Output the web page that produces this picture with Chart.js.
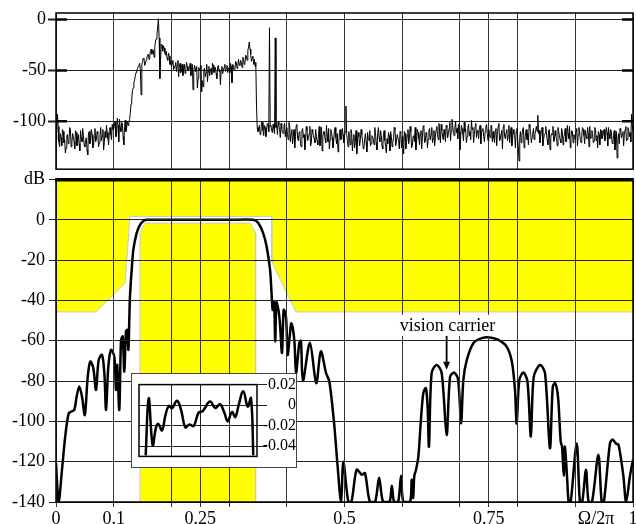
<!DOCTYPE html>
<html><head><meta charset="utf-8">
<script src="https://cdn.jsdelivr.net/npm/chart.js@4/dist/chart.umd.min.js"></script>
<style>
html,body{margin:0;padding:0;background:#fff;}
#wrap{position:relative;width:636px;height:524px;overflow:hidden;background:#fff;}
#wrap canvas{position:absolute;left:0;top:0;}
#inset{position:absolute;left:131px;top:373px;width:166px;height:95px;border:1px solid #444;box-sizing:border-box;background:#fff;}
</style></head><body>
<div id="wrap">
<canvas id="bottom" width="636" height="524"></canvas>
<canvas id="top" width="636" height="182"></canvas>
<div id="inset"><canvas id="ins" width="164" height="93"></canvas></div>
</div>
<script>
// ---------- data ----------
const xTickValues = [0,0.1,0.2,0.25,0.3,0.4,0.5,0.6,0.7,0.75,0.8,0.9,0.936,1];
const xTickLabels = ['0','0.1','','0.25','','','0.5','','','0.75','','','Ω/2π','1'];
const topYTicks = [0,-50,-100];
const bottomYTicks = [20,0,-20,-40,-60,-80,-100,-120,-140];
const bottomYLabels = ['dB','0','-20','-40','-60','-80','-100','-120','-140'];

// measured spectrum (top panel), read at every 0.0025 of Ω/2π (specDB, from 0 to 1)
// and at the midpoints between them (specDBMid, from 0.00125 to 0.99875)
const SPEC_STEP = 0.0025;
const specDB = [
-118,-93,-120,-112,-124,-110,-118,-126,-113,-119,-108,-121,-115,-127,-111,-117,-122,-109,-120,-114,
-125,-116,-133,-110,-119,-113,-124,-107,-118,-112,-121,-106,-115,-128,-110,-104,-117,-109,-113,-103,
-108,-100,-112,-104,-98,-110,-102,-123,-99,-106,-104,-98,-83,-70,-62,-55,-50,-46,-43,-74,
-41,-39,-43,-37,-34,-36,-29,-33,-37,-21,-15,1,-58,-24,-31,-28,-35,-38,-33,-44,
-46,-40,-48,-42,-45,-56,-43,-47,-55,-44,-49,-46,-50,-43,-48,-69,-45,-51,-67,-47,
-50,-71,-66,-48,-52,-61,-46,-50,-54,-45,-49,-53,-47,-51,-64,-46,-50,-44,-48,-52,
-47,-43,-62,-45,-49,-42,-46,-44,-40,-47,-38,-43,-36,-30,-22,-34,-38,-44,-46,-85,
-110,-104,-112,-101,-114,-106,-109,-103,-8,-104,-111,-107,-18,-103,-100,-108,-102,-111,-105,-115,
-106,-118,-104,-112,-122,-108,-115,-103,-119,-110,-125,-107,-113,-120,-109,-116,-105,-121,-111,-117,
-108,-119,-112,-124,-106,-115,-110,-121,-113,-107,-118,-111,-126,-109,-116,-112,-122,-108,-117,-113,
-114,-85,-119,-110,-123,-112,-118,-126,-109,-121,-115,-118,-113,-127,-117,-120,-111,-119,-124,-114,
-118,-106,-121,-112,-116,-109,-124,-113,-119,-131,-122,-114,-110,-125,-116,-108,-120,-113,-127,-111,
-115,-132,-112,-121,-108,-117,-110,-124,-114,-106,-119,-111,-123,-109,-116,-104,-120,-112,-118,-107,
-113,-121,-109,-116,-105,-118,-111,-103,-115,-108,-120,-106,-112,-101,-109,-104,-114,-100,-107,-103,
-128,-104,-112,-101,-108,-115,-103,-110,-99,-106,-113,-102,-109,-117,-104,-111,-107,-120,-105,-112,
-108,-116,-104,-110,-121,-107,-113,-102,-118,-109,-106,-115,-111,-119,-104,-112,-124,-108,-114,-110,
-117,-139,-110,-114,-106,-119,-108,-112,-103,-110,-116,-107,-113,-105,-94,-109,-115,-106,-118,-112,
-111,-123,-108,-116,-113,-120,-109,-117,-106,-114,-121,-110,-115,-107,-119,-112,-105,-116,-110,-113,
-118,-107,-113,-110,-121,-106,-114,-109,-117,-111,-105,-116,-112,-119,-108,-114,-110,-123,-109,-115,
-108,-114,-111,-106,-117,-110,-122,-109,-115,-136,-112,-107,-116,-110,-113,-105,-118,-108,-111,-93,
-110];
const specDBMid = [
-112,-105,-125,-116,-108,-121,-131,-114,-122,-106,-125,-112,-120,-109,-124,-113,-129,-116,-107,-123,
-119,-128,-112,-122,-108,-126,-115,-120,-110,-125,-114,-119,-108,-121,-116,-111,-123,-106,-118,-108,
-104,-115,-97,-120,-106,-101,-115,-105,-110,-100,-101,-92,-78,-67,-59,-52,-48,-45,-50,-44,
-38,-45,-40,-35,-39,-31,-34,-30,-27,-19,-7,-18,-40,-25,-26,-33,-31,-40,-36,-41,
-43,-49,-45,-51,-40,-47,-52,-44,-48,-53,-42,-50,-47,-55,-44,-52,-48,-46,-58,-50,
-45,-60,-49,-56,-44,-51,-55,-48,-43,-52,-47,-58,-45,-49,-50,-53,-47,-51,-45,-49,
-52,-46,-44,-50,-41,-48,-39,-45,-42,-37,-44,-35,-40,-27,-29,-41,-36,-39,-42,-106,
-107,-113,-100,-109,-104,-115,-102,-110,-105,-109,-103,-112,-106,-113,-104,-116,-107,-112,-102,-108,
-113,-101,-120,-108,-115,-126,-104,-117,-111,-122,-109,-116,-128,-105,-119,-112,-124,-108,-114,-121,
-115,-123,-105,-118,-129,-110,-117,-104,-120,-127,-108,-116,-119,-106,-122,-130,-111,-118,-107,-121,
-110,-112,-125,-116,-108,-129,-113,-120,-132,-111,-124,-108,-119,-126,-112,-130,-117,-109,-122,-115,
-123,-112,-128,-106,-120,-114,-127,-109,-125,-117,-111,-129,-115,-121,-106,-124,-113,-119,-110,-126,
-120,-110,-127,-114,-122,-105,-126,-115,-120,-128,-108,-117,-113,-127,-105,-121,-111,-126,-109,-118,
-106,-117,-124,-108,-113,-102,-121,-109,-118,-113,-104,-116,-107,-119,-98,-112,-106,-111,-117,-110,
-116,-107,-119,-110,-121,-106,-114,-118,-108,-121,-105,-116,-111,-106,-122,-109,-115,-110,-103,-119,
-113,-104,-120,-116,-109,-124,-105,-119,-112,-127,-103,-117,-108,-114,-121,-106,-118,-112,-126,-107,
-125,-115,-121,-108,-126,-111,-118,-123,-106,-121,-112,-118,-109,-110,-112,-121,-108,-124,-113,-105,
-118,-109,-128,-112,-105,-119,-114,-124,-110,-118,-107,-123,-113,-120,-104,-117,-126,-109,-121,-115,
-110,-124,-106,-119,-113,-108,-122,-115,-106,-125,-117,-109,-121,-106,-119,-126,-113,-108,-117,-112,
-119,-106,-124,-113,-108,-121,-114,-128,-110,-118,-122,-109,-113,-124,-108,-119,-106,-115,-120,-104];

// tolerance mask (yellow): stopband upper limit and passband lower limit
const maskStopF  = [0, 0.069, 0.120, 0.128, 0.374, 0.374, 0.395, 0.416, 1];
const maskStopDB = [-45.7, -45.7, -31.4, 1.6, 1.6, -20.7, -33.5, -45.7, -45.7];
const maskPassF  = [0.1456, 0.1456, 0.154, 0.336, 0.346, 0.346];
const maskPassDB = [-140, -6.5, -1.6, -1.6, -6.5, -140];

// filter magnitude response (bottom panel)
const respF = [0,0.0046,0.0104,0.016,0.022,0.0277,0.0318,0.0358,0.0404,0.045,0.050,0.055,0.0595,0.0647,0.0693,0.074,0.0797,0.0838,0.0867,0.0907,0.0953,0.101,0.104,0.106,0.1097,0.1127,0.1156,0.1184,0.1213,0.1235,0.1255,0.127,0.1282,0.1312,0.134,0.1398,0.1456,0.1525,0.157,0.2,0.25,0.3,0.342,0.3506,0.359,0.365,0.371,0.3735,0.3755,0.378,0.380,0.382,0.3855,0.388,0.3917,0.3946,0.3986,0.4015,0.405,0.408,0.413,0.416,0.4217,0.4245,0.428,0.44,0.451,0.459,0.468,0.4737,0.482,0.488,0.494,0.498,0.5066,0.512,0.521,0.53,0.5355,0.544,0.553,0.560,0.567,0.578,0.582,0.586,0.593,0.598,0.602,0.6135,0.6165,0.619,0.621,0.624,0.628,0.632,0.6366,0.641,0.644,0.6464,0.651,0.6597,0.6684,0.677,0.683,0.6903,0.697,0.702,0.706,0.712,0.7233,0.738,0.752,0.7666,0.781,0.79,0.7955,0.7984,0.803,0.81,0.817,0.823,0.828,0.839,0.8475,0.856,0.861,0.865,0.870,0.8747,0.877,0.880,0.882,0.886,0.8885,0.892,0.9024,0.908,0.912,0.9185,0.923,0.929,0.940,0.9457,0.9495,0.960,0.9646,0.9705,0.975,0.9833,0.988,0.9948,1.0];
const respDB = [-120.8,-140,-124,-107.5,-96,-95,-94.3,-87.7,-82.7,-87.7,-96.8,-77.8,-70.3,-73.6,-84.4,-69.5,-67,-76,-94.3,-72.8,-64.5,-67.8,-84.4,-72,-94.3,-59.6,-57.9,-75.3,-55.4,-54.6,-64.5,-50,-38,-24.8,-14.9,-6.6,-2.5,-0.3,0,0,0,0,0,-1.6,-6.6,-13.2,-24.8,-36,-44.7,-41,-60.4,-41,-44.7,-51,-66,-44.7,-48,-67,-57.9,-51.3,-59.6,-76,-61,-60,-80,-61,-81,-65.3,-76,-80.2,-101,-122,-140,-120,-140,-140,-124,-126.5,-125.7,-140,-140,-128,-140,-140,-132,-140,-140,-127,-140,-140,-129,-138,-127,-124,-117.5,-101,-86,-83.5,-92.6,-112.5,-76,-72,-76,-106.7,-77.8,-75.8,-79.4,-101,-79.4,-69.5,-61.2,-58.7,-58.4,-59.6,-62.9,-70.3,-84.4,-101,-79.4,-75.8,-80,-107.5,-77.8,-72,-76,-113.3,-82.7,-81,-87.7,-110,-112.5,-127,-112.5,-129,-140,-140,-111,-140,-140,-124,-140,-140,-116.6,-140,-140,-111,-109,-111,-111.7,-127,-140,-127,-119];

// passband detail (inset), dB
const insetF   = [0.1554,0.1606,0.1675,0.1733,0.1773,0.1837,0.1895,0.1953,0.201,0.2097,0.2166,0.2241,0.231,0.2386,0.2473,0.2542,0.2669,0.2761,0.2842,0.2917,0.2976,0.305,0.3108,0.3166,0.3247,0.3322,0.338,0.342];
const insetDev = [-0.049,0.0067,-0.039,-0.0217,-0.0183,-0.0246,-0.0102,-0.0009,-0.0029,0.0043,-0.0043,-0.0217,-0.0188,-0.0203,-0.0072,-0.0058,0.0035,-0.0029,0.0009,-0.0072,-0.0159,-0.0067,-0.0116,0,0.0136,-0.0014,0.0067,-0.049];
const insetXGrid = [0.2,0.25,0.3];
const insetYTicks = [0.02,0,-0.02,-0.04];
const insetYLabels = ['0.02','0','-0.02','-0.04'];

// annotation
const annText = 'vision carrier';
const annTextF = 0.6785, annTextDB = -55.1;
const annArrowF = 0.677, annArrowTopDB = -57.6, annArrowTipDB = -74.4;

// ---------- drawing ----------
const FONT = "'Liberation Serif','Times New Roman',serif";
const GRID = '#333';
const pairs = (xs, ys) => xs.map((x,i)=>({x:x, y:ys[i]}));
const setTicks = list => s => { s.ticks = list.map(v=>({value:v})); };
const gridColorX = ctx => (ctx.tick && ctx.tick.value === 0.936) ? 'rgba(0,0,0,0)' : GRID;

const specPoints = [];
specDB.forEach((v,i)=>{
  specPoints.push({x:i*SPEC_STEP, y:v});
  if (i < specDBMid.length) specPoints.push({x:(i+0.5)*SPEC_STEP, y:specDBMid[i]});
});

const framePlugin = {
  id:'frame',
  afterDraw(chart){
    const a = chart.chartArea, c = chart.ctx;
    c.save(); c.strokeStyle = '#000'; c.lineWidth = 1.5;
    c.strokeRect(a.left, a.top, a.right-a.left, a.bottom-a.top);
    c.restore();
  }
};
const innerTicksPlugin = {
  id:'innerTicks',
  afterDraw(chart){
    const a = chart.chartArea, c = chart.ctx, y = chart.scales.y;
    c.save(); c.strokeStyle = '#000'; c.lineWidth = 2.5;
    topYTicks.forEach(v=>{
      const py = y.getPixelForValue(v);
      c.beginPath(); c.moveTo(a.left, py); c.lineTo(a.left+11, py);
      c.moveTo(a.right-11, py); c.lineTo(a.right, py); c.stroke();
    });
    c.restore();
  }
};
const bottomDecor = {
  id:'bottomDecor',
  afterDraw(chart){
    const a = chart.chartArea, c = chart.ctx, xs = chart.scales.x, ys = chart.scales.y;
    c.save();
    c.strokeStyle = '#000'; c.lineWidth = 3.5;
    c.beginPath(); c.moveTo(a.left-0.75, a.top+0.2); c.lineTo(a.right+0.75, a.top+0.2); c.stroke();
    c.font = '18px ' + FONT;
    const tx = xs.getPixelForValue(annTextF), ty = ys.getPixelForValue(annTextDB);
    const w = c.measureText(annText).width;
    c.fillStyle = '#fff';
    c.fillRect(tx - w/2 - 2, ty - 16, w + 4, 21);
    c.fillStyle = '#000'; c.textAlign = 'center'; c.textBaseline = 'alphabetic';
    c.fillText(annText, tx, ty);
    const ax = xs.getPixelForValue(annArrowF);
    const ay0 = ys.getPixelForValue(annArrowTopDB), ay1 = ys.getPixelForValue(annArrowTipDB);
    c.strokeStyle = '#000'; c.lineWidth = 1.8;
    c.beginPath(); c.moveTo(ax, ay0); c.lineTo(ax, ay1 - 6); c.stroke();
    c.beginPath(); c.moveTo(ax - 3.5, ay1 - 8); c.lineTo(ax + 3.5, ay1 - 8); c.lineTo(ax, ay1); c.closePath(); c.fill();
    c.restore();
  }
};

Chart.defaults.font.family = FONT;
Chart.defaults.color = '#000';

// top panel
new Chart(document.getElementById('top'), {
  type:'line',
  data:{datasets:[{data: specPoints, borderColor:'#000', borderWidth:1, pointRadius:0, tension:0, fill:false}]},
  options:{
    responsive:false, animation:false, devicePixelRatio:1,
    layout:{padding:{top:13,right:3,bottom:3,left:0}},
    plugins:{legend:{display:false}, tooltip:{enabled:false}},
    scales:{
      x:{type:'linear', min:0, max:1, afterBuildTicks:setTicks(xTickValues),
         ticks:{display:false}, grid:{color:gridColorX, drawTicks:false}, border:{display:false},
         afterFit:s=>{s.height=0; s.paddingLeft=0; s.paddingRight=0;}},
      y:{type:'linear', min:-147, max:6.5, afterBuildTicks:setTicks(topYTicks),
         ticks:{font:{family:FONT,size:18}, color:'#000', padding:2, callback:v=>String(v)},
         grid:{color:'#222', tickLength:8, tickWidth:2}, border:{display:false},
         afterFit:s=>{s.width=56;}}
    }
  },
  plugins:[framePlugin, innerTicksPlugin]
});

// bottom panel
new Chart(document.getElementById('bottom'), {
  type:'line',
  data:{datasets:[
    {data: pairs(respF, respDB), borderColor:'#000', borderWidth:2.5, pointRadius:0, tension:0.3, fill:false, order:0},
    {data: pairs(maskStopF, maskStopDB), borderColor:'#c8c8c8', borderWidth:1, backgroundColor:'#ffff00', pointRadius:0, tension:0, fill:'end', order:1},
    {data: pairs(maskPassF, maskPassDB), borderColor:'#c8c8c8', borderWidth:1, backgroundColor:'#ffff00', pointRadius:0, tension:0, fill:'start', order:2}
  ]},
  options:{
    responsive:false, animation:false, devicePixelRatio:1,
    layout:{padding:{top:179.5,right:3,bottom:0,left:0}},
    plugins:{legend:{display:false}, tooltip:{enabled:false}},
    scales:{
      x:{type:'linear', min:0, max:1, afterBuildTicks:setTicks(xTickValues),
         ticks:{font:{family:FONT,size:18}, color:'#000', padding:1, autoSkip:false, maxRotation:0, minRotation:0,
                callback:(v,i)=>xTickLabels[i]},
         grid:{color:gridColorX, tickColor:gridColorX, tickLength:5, z:1}, border:{display:false},
         afterFit:s=>{s.height=22; s.paddingLeft=0; s.paddingRight=0;}},
      y:{type:'linear', min:-140, max:20, afterBuildTicks:setTicks(bottomYTicks),
         ticks:{font:{family:FONT,size:18}, color:'#000', padding:4, callback:(v,i)=>bottomYLabels[i]},
         grid:{color:'#222', tickLength:7, z:1}, border:{display:false},
         afterFit:s=>{s.width=56;}}
    }
  },
  plugins:[framePlugin, bottomDecor]
});

// inset
new Chart(document.getElementById('ins'), {
  type:'line',
  data:{datasets:[{data: pairs(insetF, insetDev), borderColor:'#000', borderWidth:2.5, pointRadius:0, tension:0.4, fill:false}]},
  options:{
    responsive:false, animation:false, devicePixelRatio:1,
    layout:{padding:{top:8,left:7,bottom:5,right:0}},
    plugins:{legend:{display:false}, tooltip:{enabled:false}},
    scales:{
      x:{type:'linear', min:0.1438, max:0.3484, afterBuildTicks:setTicks(insetXGrid),
         ticks:{display:false}, grid:{color:'#222', drawTicks:false}, border:{display:false},
         afterFit:s=>{s.height=0; s.paddingLeft=0; s.paddingRight=0;}},
      y:{type:'linear', position:'right', min:-0.05, max:0.02, afterBuildTicks:setTicks(insetYTicks),
         ticks:{font:{family:FONT,size:16}, color:'#000', padding:1, crossAlign:'far', callback:(v,i)=>insetYLabels[i]},
         grid:{color:'#222', tickLength:10}, border:{display:false},
         afterFit:s=>{s.width=39;}}
    }
  },
  plugins:[framePlugin]
});
</script>
</body></html>
